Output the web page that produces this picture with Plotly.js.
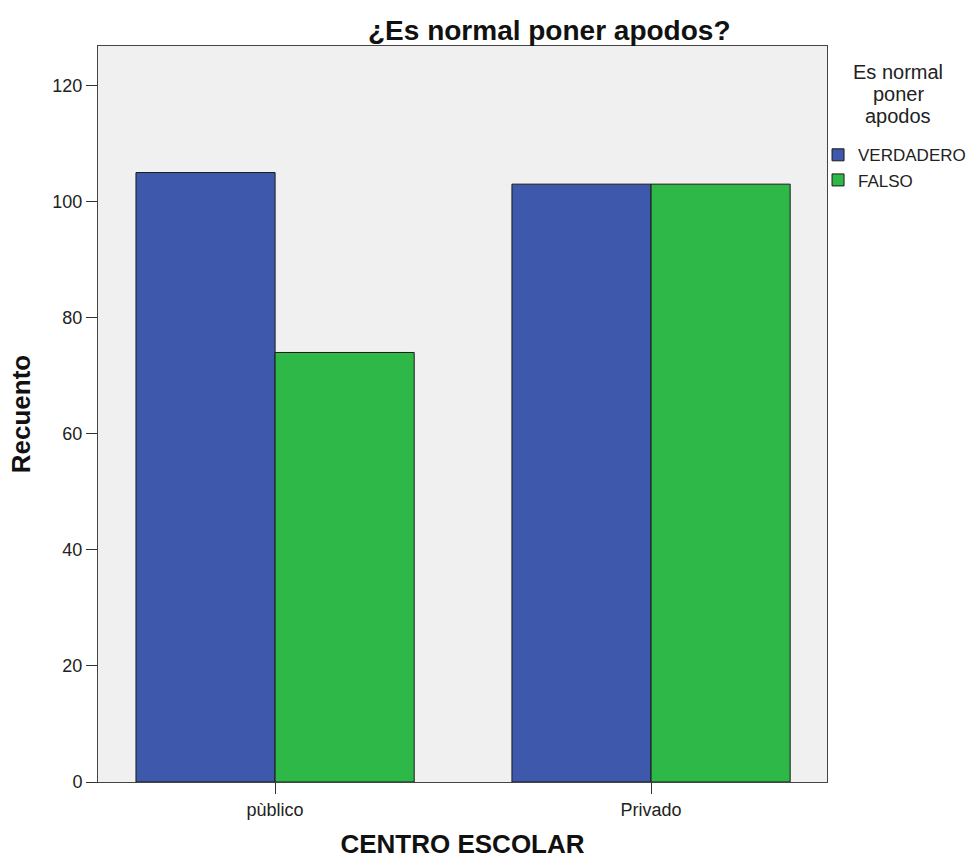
<!DOCTYPE html>
<html>
<head>
<meta charset="utf-8">
<script src="https://cdn.plot.ly/plotly-3.0.1.min.js"></script>
<style>html,body{margin:0;padding:0;background:#fff;}#chart{width:967px;height:861px;}</style>
</head>
<body>
<div id="chart"></div>
<script>
const categories = ["pùblico", "Privado"];
const verdadero = [105, 103];
const falso = [74, 103];
const yTicks = [0, 20, 40, 60, 80, 100, 120];
const legendTitleLines = ["Es normal", "poner", "apodos"];

const traces = [
  {type: "bar", name: "VERDADERO", x: categories, y: verdadero,
   marker: {color: "#3e58ac", line: {color: "#1a1a1a", width: 1}}, hoverinfo: "y"},
  {type: "bar", name: "FALSO", x: categories, y: falso,
   marker: {color: "#2eb848", line: {color: "#1a1a1a", width: 1}}, hoverinfo: "y"}
];

const legendTitleY = [72, 94, 116];
const annotations = legendTitleLines.map((t, i) => ({
  xref: "paper", yref: "paper",
  x: (898 - 98) / 729, y: (782 - legendTitleY[i]) / 736,
  xanchor: "center", yanchor: "middle",
  text: t, showarrow: false, font: {size: 20, color: "#222"}
}));

const layout = {
  width: 967, height: 861,
  margin: {l: 98, r: 140, t: 46, b: 79, autoexpand: false},
  paper_bgcolor: "#ffffff",
  plot_bgcolor: "#f0f0f0",
  font: {family: "Liberation Sans, Arial, sans-serif", color: "#222", size: 18},
  barmode: "group",
  bargap: 0.26,
  bargroupgap: 0,
  showlegend: true,
  title: {text: "<b>¿Es normal poner apodos?</b>", x: 0.568, xanchor: "center", y: 0.965, yanchor: "middle",
          font: {size: 28, color: "#111"}},
  xaxis: {
    type: "category", range: [-0.471, 1.468],
    showline: true, linecolor: "#444", linewidth: 1, mirror: true,
    ticks: "outside", ticklen: 11, tickcolor: "#333", tickwidth: 1,
    showgrid: false, zeroline: false,
    tickfont: {size: 18, color: "#222"},
    title: {text: "<b>CENTRO ESCOLAR</b>", font: {size: 26, color: "#111"}, standoff: 16}
  },
  yaxis: {
    range: [0, 126.8], tickvals: yTicks, ticktext: yTicks.map(String),
    showline: true, linecolor: "#444", linewidth: 1, mirror: true,
    ticks: "outside", ticklen: 11, tickcolor: "#333", tickwidth: 1,
    showgrid: false, zeroline: false,
    tickfont: {size: 18, color: "#222"},
    title: {text: "<b>Recuento</b>", font: {size: 26, color: "#111"}, standoff: 14}
  },
  legend: {
    x: 0.9877, xanchor: "left", y: 0.876, yanchor: "top",
    bgcolor: "rgba(0,0,0,0)", font: {size: 17, color: "#222"},
    itemwidth: 30, tracegroupgap: 0, traceorder: "normal"
  },
  annotations: annotations
};

Plotly.newPlot("chart", traces, layout, {displayModeBar: false, staticPlot: true});
</script>
</body>
</html>
